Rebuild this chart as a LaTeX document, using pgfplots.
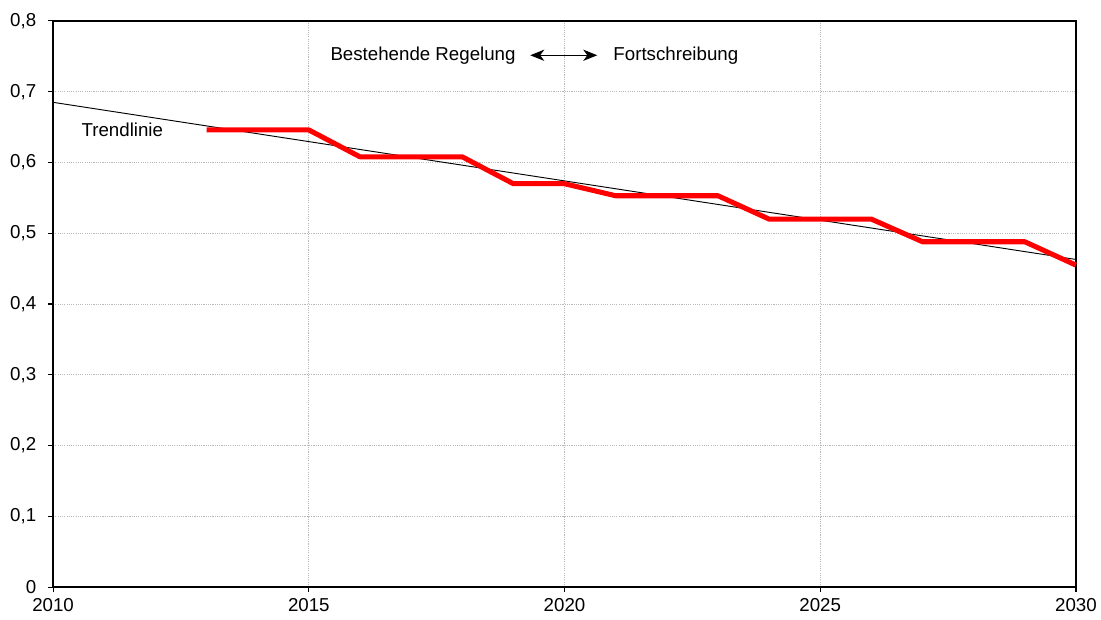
\documentclass[border=0pt]{standalone}
\usepackage{fontspec}
\setmainfont{Liberation Sans}
\usepackage{pgfplots}
\pgfplotsset{compat=1.18}
\usetikzlibrary{arrows.meta}

\begin{document}
\begin{tikzpicture}
% page frame: same margins round the axis as in the reference
\useasboundingbox (-28.4pt,-17.1pt) rectangle (560.4pt,314pt);
\begin{axis}[
  scale only axis,
  width=547pt, height=302.8pt,
  xmin=2010, xmax=2030, ymin=0, ymax=0.8,
  xtick={2010,2015,...,2030},
  ytick={0,0.1,...,0.8},
  tick pos=left,
  /pgf/number format/assume math mode=true,
  x tick label style={/pgf/number format/1000 sep={}},
  y tick label style={/pgf/number format/use comma,
    /pgf/number format/fixed, /pgf/number format/precision=1, xshift=-3pt},
  tick align=outside,
  major tick length=2.5pt,
  tick style={black, line width=0.6pt},
  axis line style={black, line width=0.8pt},
  grid=major,
  major grid style={gray!55, dash pattern=on 0.6pt off 0.6pt, line width=0.5pt},
  clip=false,
]
% Trendlinie
\addplot[black, line width=0.5pt] coordinates {(2010,0.685) (2030,0.463)};
% Stufen
\addplot[red, line width=2.7pt, line join=round] coordinates {
(2013,0.646) (2015,0.646) (2016,0.608) (2018,0.608) (2019,0.570)
(2020,0.570) (2021,0.553) (2023,0.553) (2024,0.520) (2026,0.520)
(2027,0.488) (2029,0.488) (2030,0.455)
};
\node[anchor=west, inner sep=0pt] at (axis cs:2010.55,0.646) {Trendlinie};
\node[anchor=east, inner sep=0pt] at (axis cs:2019.05,0.7515) {Bestehende Regelung};
\node[anchor=west, inner sep=0pt] at (axis cs:2020.95,0.7515) {Fortschreibung};
\draw[{Stealth[length=7.5pt,width=6pt,inset=2.2pt]}-{Stealth[length=7.5pt,width=6pt,inset=2.2pt]}, line width=0.6pt]
  (axis cs:2019.33,0.7515) -- (axis cs:2020.64,0.7515);
\end{axis}
\end{tikzpicture}
\end{document}
